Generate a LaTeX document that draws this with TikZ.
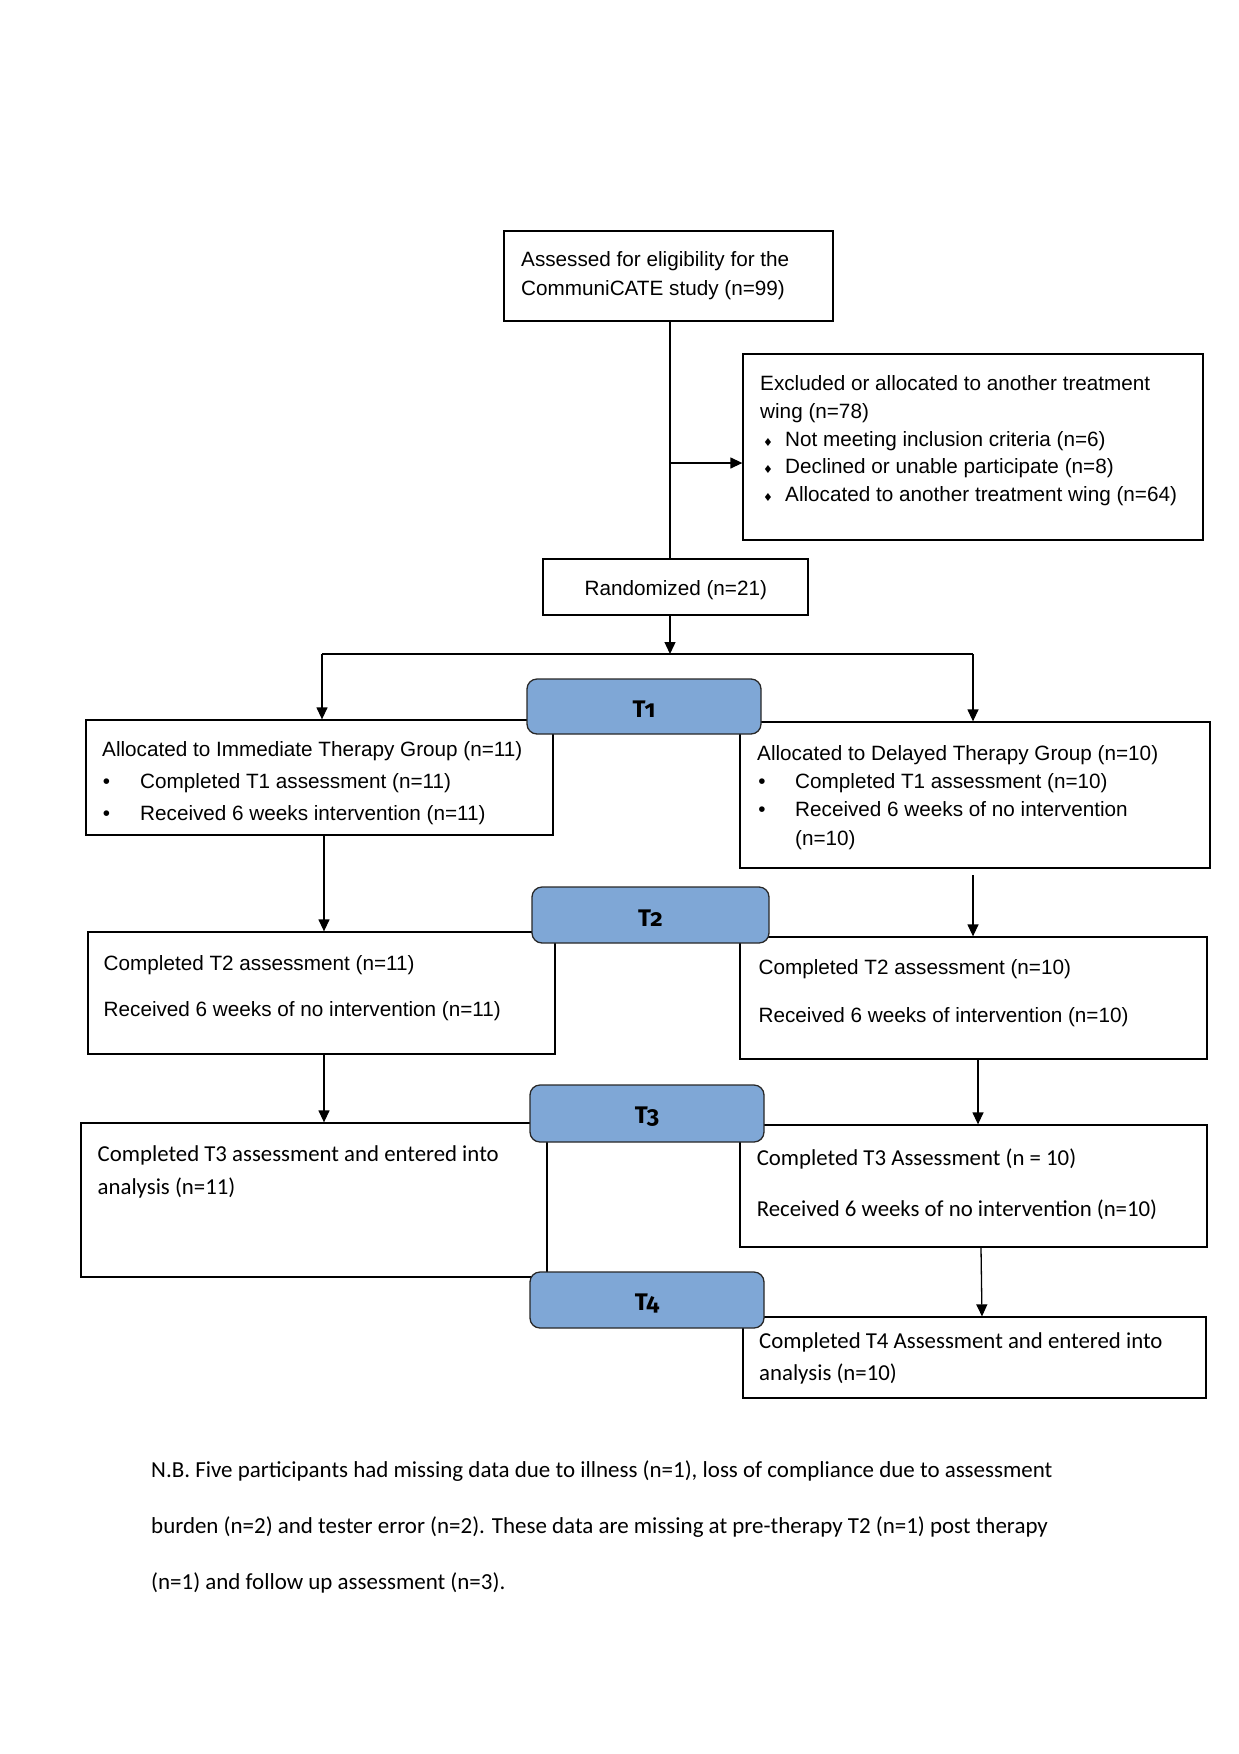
\documentclass[tikz,border=0pt]{standalone}
\usepackage{fontspec}
\setmainfont{Liberation Sans}
\newfontfamily\calfont{Carlito}
\newfontfamily\tfont[Numbers=OldStyle]{Fira Sans}
\newfontfamily\symfont{DejaVu Sans}
\usetikzlibrary{arrows.meta}
\definecolor{tblue}{RGB}{127,167,214}
\definecolor{tedge}{RGB}{40,40,40}
\newcommand{\tlow}[1]{\raisebox{-3pt}[\height][\depth]{#1}}
\begin{document}
\begin{tikzpicture}[x=1pt,y=-1pt,
 box/.style={draw=black, line width=1.3pt, rectangle, inner sep=0pt},
 tbox/.style={draw=tedge, fill=tblue, line width=1.3pt, rounded corners=10pt, inner sep=0pt, font=\tfont\bfseries\fontsize{24}{24}\selectfont},
 ar/.style={font=\fontsize{20.7}{28}\selectfont, anchor=base west, inner sep=0pt},
 cb/.style={font=\calfont\fontsize{22.8}{28}\selectfont, anchor=base west, inner sep=0pt},
 fn/.style={font=\calfont\fontsize{22.95}{28}\selectfont, anchor=base west, inner sep=0pt},
 bul/.style={font=\fontsize{20.7}{28}\selectfont, anchor=base, inner sep=0pt},
 dia/.style={font=\symfont\fontsize{11}{11}\selectfont, anchor=base, inner sep=0pt},
 conn/.style={line width=1.3pt},
 arr/.style={conn, -{Triangle[length=12pt,width=11pt]}},
]
\fill[white] (0,0) rectangle (1239,1754);
\useasboundingbox (0,0) rectangle (1239,1754);

% boxes
\node[box, minimum width=329, minimum height=90] (top) at (668.5,276) {};
\node[box, minimum width=460, minimum height=186] (excl) at (973,447) {};
\node[box, minimum width=265, minimum height=56] (rand) at (675.5,587) {};
\node[box, minimum width=467, minimum height=115] (imm) at (319.5,777.5) {};
\node[box, minimum width=470, minimum height=146] (del) at (975,795) {};
\node[box, minimum width=467, minimum height=122] (L2) at (321.5,993) {};
\node[box, minimum width=467, minimum height=122] (R2) at (973.5,998) {};
\node[box, minimum width=466, minimum height=154] (L3) at (314,1200) {};
\node[box, minimum width=467, minimum height=122] (R3) at (973.5,1186) {};
\node[box, minimum width=463, minimum height=81] (R4) at (974.5,1357.5) {};

% connectors
\coordinate (trunk) at (670,463);
\coordinate (split) at (670,654);
\coordinate (sl) at (322,654);
\coordinate (sr) at (973,654);
\coordinate (cl) at (324,0);
\coordinate (dstart) at (973,875);
\coordinate (cr) at (978,0);
\coordinate (r3a) at (981,0);
\coordinate (r4a) at (982,0);
\draw[conn] (top.south -| trunk) -- (rand.north -| trunk);
\draw[arr] (trunk) -- (excl.west |- trunk);
\draw[arr] (rand.south -| trunk) -- (split);
\draw[conn] (sl) -- (sr);
\draw[arr] (sl) -- (imm.north -| sl);
\draw[arr] (sr) -- (del.north -| sr);
\draw[arr] (imm.south -| cl) -- (L2.north -| cl);
\draw[arr] (dstart) -- (R2.north -| dstart);
\draw[arr] (L2.south -| cl) -- (L3.north -| cl);
\draw[arr] (R2.south -| cr) -- (R3.north -| cr);
\draw[arr] (R3.south -| r3a) -- (R4.north -| r4a);

% texts
\node[ar] (t0a) at (521,266.7) {Assessed for eligibility for the};
\node[ar] (t0b) at (521,295) {CommuniCATE study (n=99)};

\node[ar] (e1) at (760,390) {Excluded or allocated to another treatment};
\node[ar] (e2) at (760,418) {wing (n=78)};
\node[dia] (ed1) at (768,446) {♦};
\node[dia] (ed2) at (768,473) {♦};
\node[dia] (ed3) at (768,501) {♦};
\node[ar] (e3) at (785,446) {Not meeting inclusion criteria (n=6)};
\node[ar] (e4) at (785,473) {Declined or unable participate (n=8)};
\node[ar] (e5) at (785,501) {Allocated to another treatment wing (n=64)};

\node[ar, anchor=base] (rt) at (675.8,595) {Randomized (n=21)};

\node[ar] (i1) at (102,756.7) {Allocated to Immediate Therapy Group (n=11)};
\node[bul] (ib1) at (106.6,788.3) {•};
\node[bul] (ib2) at (106.6,820) {•};
\node[ar] (i2) at (140,788.3) {Completed T1 assessment (n=11)};
\node[ar] (i3) at (140,820) {Received 6 weeks intervention (n=11)};

\node[ar] (d1) at (757,760) {Allocated to Delayed Therapy Group (n=10)};
\node[bul] (db1) at (762,788.3) {•};
\node[bul] (db2) at (762,816.7) {•};
\node[ar] (d2) at (795,788.3) {Completed T1 assessment (n=10)};
\node[ar] (d3) at (795,816.7) {Received 6 weeks of no intervention};
\node[ar] (d4) at (795,845) {(n=10)};

\node[ar] (l21) at (103.5,970) {Completed T2 assessment (n=11)};
\node[ar] (l22) at (103.5,1016.7) {Received 6 weeks of no intervention (n=11)};
\node[ar] (r21) at (758.4,974.5) {Completed T2 assessment (n=10)};
\node[ar] (r22) at (758.4,1022) {Received 6 weeks of intervention (n=10)};

\node[cb] (l31) at (97.5,1161.7) {Completed T3 assessment and entered into};
\node[cb] (l32) at (97.5,1194) {analysis (n=11)};
\node[cb] (r31) at (756.6,1165) {Completed T3 Assessment (n = 10)};
\node[cb] (r32) at (756.6,1216.7) {Received 6 weeks of no intervention (n=10)};
\node[cb] (r41) at (759,1348.3) {Completed T4 Assessment and entered into};
\node[cb] (r42) at (759,1380.7) {analysis (n=10)};

\node[fn] (f1) at (151,1477) {N.B. Five participants had missing data due to illness (n=1), loss of compliance due to assessment};
\node[fn] (f2) at (151,1533) {burden (n=2) and tester error (n=2). These data are missing at pre-therapy T2 (n=1) post therapy};
\node[fn] (f3) at (151,1589) {(n=1) and follow up assessment (n=3).};

% time-point boxes
\node[tbox, minimum width=234, minimum height=55] (T1) at (644,706.5) {\tlow{T1}};
\node[tbox, minimum width=237, minimum height=56] (T2) at (650.5,915) {\tlow{T2}};
\node[tbox, minimum width=234, minimum height=57] (T3) at (647,1113.5) {\tlow{T3}};
\node[tbox, minimum width=234, minimum height=56] (T4) at (647,1300) {\tlow{T4}};
\end{tikzpicture}
\end{document}
